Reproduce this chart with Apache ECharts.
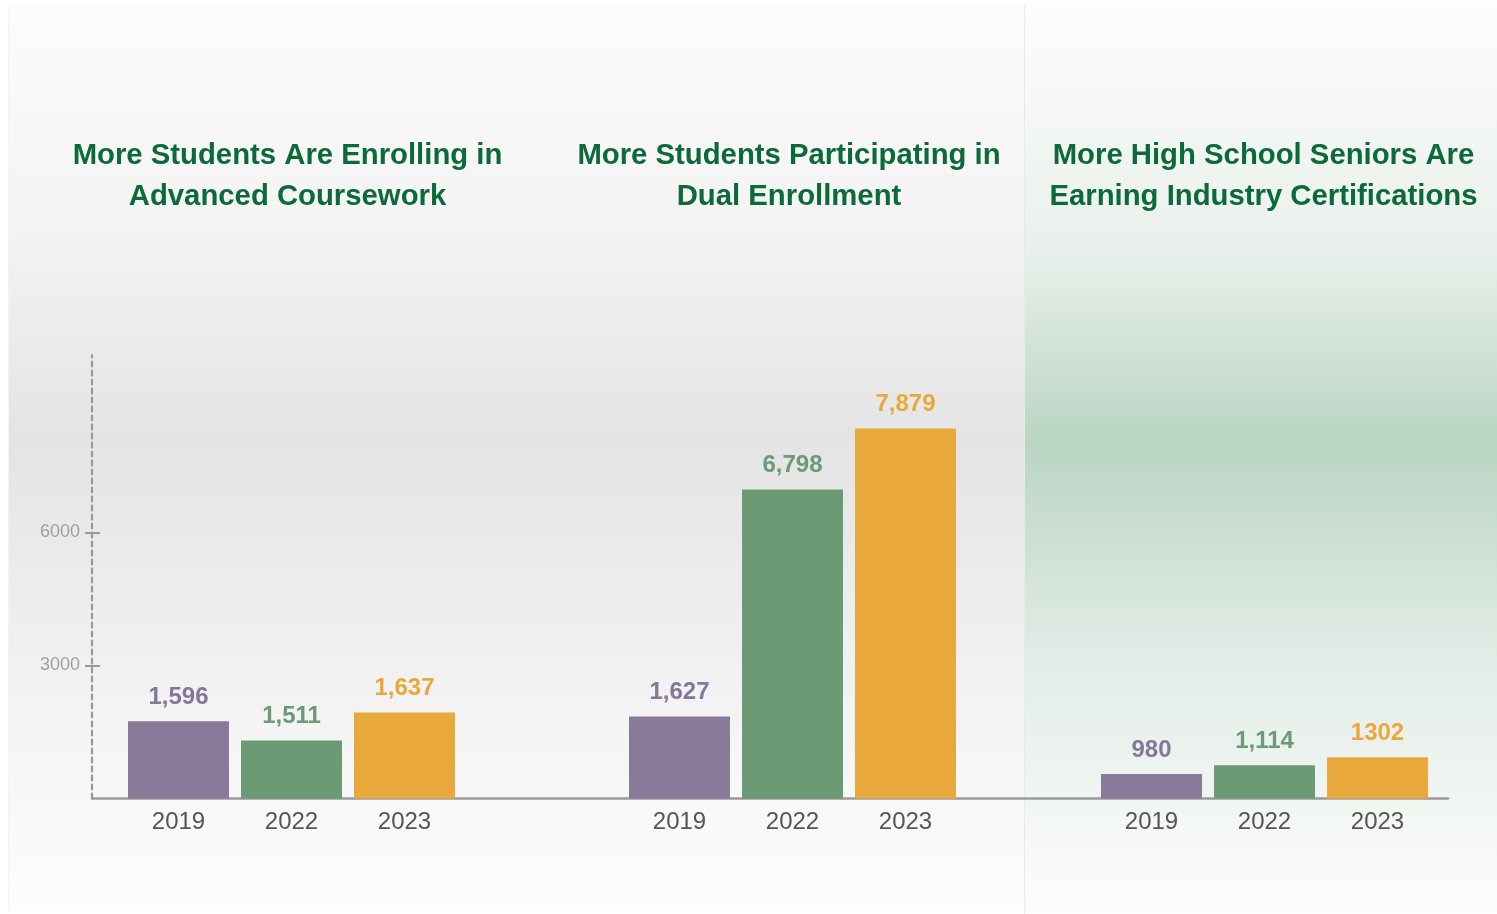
<!DOCTYPE html>
<html>
<head>
<meta charset="utf-8">
<script src="https://cdn.jsdelivr.net/npm/echarts@6/dist/echarts.min.js"></script>
<style>
html,body{margin:0;padding:0;background:#ffffff;}
#chart{width:1497px;height:914px;}
</style>
</head>
<body>
<div id="chart"></div>
<script>
// ---- data ----
const categories = ['2019', '2022', '2023'];
const groupTitles = [
  'More Students Are Enrolling in\nAdvanced Coursework',
  'More Students Participating in\nDual Enrollment',
  'More High School Seniors Are\nEarning Industry Certifications'
];
// bar heights
const advancedValues = [1740, 1310, 1940];
const dualValues = [1850, 6970, 8340];
const certValues = [550, 750, 930];
// printed value labels
const advancedLabels = ['1,596', '1,511', '1,637'];
const dualLabels = ['1,627', '6,798', '7,879'];
const certLabels = ['980', '1,114', '1302'];
const yTickValues = [3000, 6000];
const yMax = 10000;

// ---- styles ----
const barColors = ['#8a7a9a', '#6c9a75', '#e9a83b'];
const labelColors = ['#857799', '#6c9a75', '#e9a83b'];
const FONT = '"Liberation Sans", Arial, Helvetica, sans-serif';
const titleColor = '#0b6a38';

const groups = [
  {values: advancedValues, labels: advancedLabels, left: 122},
  {values: dualValues, labels: dualLabels, left: 623},
  {values: certValues, labels: certLabels, left: 1095}
];
const titleCenters = [287.5, 789, 1263.5];
const gridTop = 355, gridBottom = 115.5;

const chart = echarts.init(document.getElementById('chart'), null, {renderer: 'canvas'});

const grids = [{left: 92, right: 49, top: gridTop, bottom: gridBottom}];
const xAxes = [{
  type: 'value', gridIndex: 0, min: 0, max: 1,
  axisLine: {show: true, lineStyle: {color: '#9a9a9a', width: 2.5}},
  axisTick: {show: false}, axisLabel: {show: false}, splitLine: {show: false}
}];
const yAxes = [
  {
    type: 'value', gridIndex: 0, min: 0, max: yMax,
    axisLine: {show: true, lineStyle: {color: '#999999', width: 2.2, type: [5, 4]}},
    axisTick: {show: true, inside: false, length: 7, customValues: yTickValues,
      lineStyle: {color: '#999999', width: 2}},
    axisLabel: {show: true, customValues: yTickValues, color: '#a0a0a0', fontSize: 18,
      fontFamily: FONT, margin: 12, padding: [4, 0, 0, 0], formatter: (v) => String(v)},
    splitLine: {show: false}
  },
  {
    type: 'value', gridIndex: 0, min: 0, max: yMax, position: 'left',
    axisLine: {show: false},
    axisTick: {show: true, inside: true, length: 8, customValues: yTickValues,
      lineStyle: {color: '#999999', width: 2}},
    axisLabel: {show: false}, splitLine: {show: false}
  }
];
const series = [];

groups.forEach((g, i) => {
  const gi = i + 1;
  grids.push({left: g.left, width: 339, top: gridTop, bottom: gridBottom});
  xAxes.push({
    type: 'category', gridIndex: gi, data: categories,
    axisLine: {show: false}, axisTick: {show: false},
    axisLabel: {color: '#555555', fontSize: 24, fontFamily: FONT, margin: 12}
  });
  yAxes.push({
    type: 'value', gridIndex: gi, min: 0, max: yMax, show: false
  });
  series.push({
    type: 'bar', xAxisIndex: gi, yAxisIndex: gi + 1,
    barWidth: 101,
    data: g.values.map((v, k) => ({
      value: v,
      itemStyle: {color: barColors[k]},
      label: {color: labelColors[k]}
    })),
    label: {
      show: true, position: 'top', distance: 12,
      fontSize: 24, fontWeight: 'bold', fontFamily: FONT,
      formatter: (p) => g.labels[p.dataIndex]
    },
    silent: true
  });
});

const titles = groupTitles.map((t, i) => ({
  text: t,
  left: titleCenters[i],
  top: 135,
  padding: 0,
  textAlign: 'center',
  textStyle: {
    color: titleColor, fontSize: 29.3, fontWeight: 'bold', fontFamily: FONT,
    lineHeight: 41, align: 'center'
  }
}));

chart.setOption({
  animation: false,
  backgroundColor: '#ffffff',
  title: titles,
  graphic: [
    {
      type: 'rect', z: -10, silent: true,
      shape: {x: 8, y: 5, width: 1017, height: 906},
      style: {
        fill: new echarts.graphic.LinearGradient(0, 0, 0, 1, [
          {offset: 0, color: '#fcfcfc'},
          {offset: 0.25, color: '#f3f3f3'},
          {offset: 0.48, color: '#e4e4e4'},
          {offset: 0.75, color: '#f2f2f2'},
          {offset: 1, color: '#fdfdfd'}
        ])
      }
    },
    {
      type: 'line', z: -9, silent: true,
      shape: {x1: 8.5, y1: 5, x2: 8.5, y2: 911},
      style: {stroke: '#f3f3f3', lineWidth: 1}
    },
    {
      type: 'rect', z: -9, silent: true,
      shape: {x: 1025, y: 5, width: 472, height: 909},
      style: {
        fill: new echarts.graphic.LinearGradient(0, 0, 0, 1, [
          {offset: 0, color: '#fdfdfd'},
          {offset: 0.27, color: '#e9f0eb'},
          {offset: 0.48, color: '#b9d5c4'},
          {offset: 0.72, color: '#e2ece6'},
          {offset: 1, color: '#fdfdfd'}
        ])
      }
    },
    {
      type: 'line', z: -8, silent: true,
      shape: {x1: 1024.5, y1: 5, x2: 1024.5, y2: 914},
      style: {stroke: '#e8eae8', lineWidth: 1}
    }
  ],
  grid: grids,
  xAxis: xAxes,
  yAxis: yAxes,
  series: series
});
</script>
</body>
</html>
